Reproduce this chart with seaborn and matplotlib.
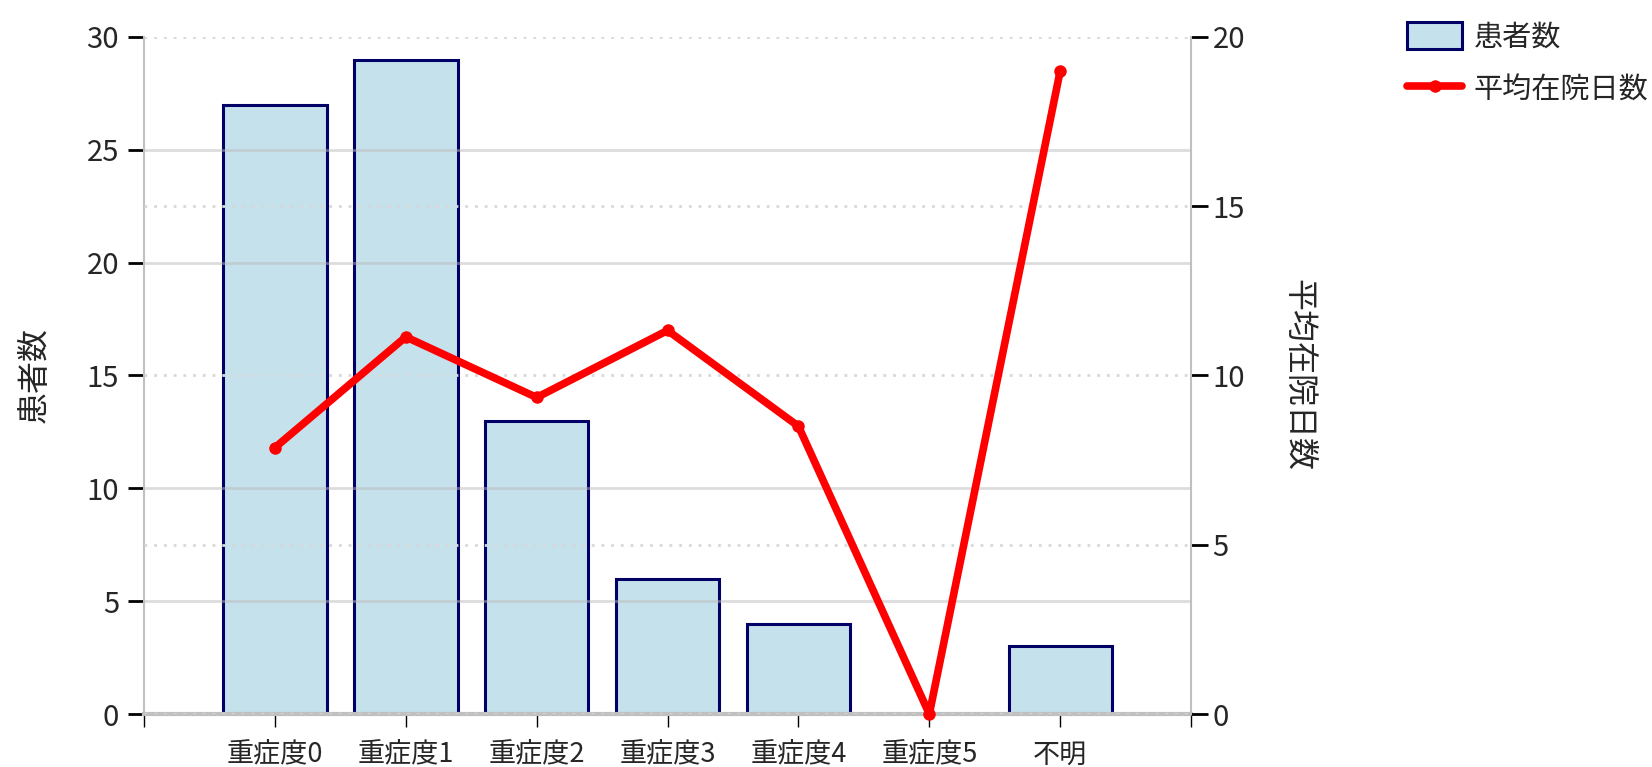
import numpy as np
import pandas as pd
import matplotlib
matplotlib.use('Agg')
import matplotlib.pyplot as plt
import seaborn as sns
from matplotlib.ticker import FixedLocator

categories = ['重症度0', '重症度1', '重症度2', '重症度3', '重症度4', '重症度5', '不明']
patients = [27, 29, 13, 6, 4, 0, 3]
avg_days = [7.87, 11.14, 9.35, 11.33, 8.5, 0.0, 19.0]
left_ticks = [0, 5, 10, 15, 20, 25, 30]
right_ticks = [0, 5, 10, 15, 20]

sns.set_theme(style='white')
plt.rcParams['font.family'] = ['Noto Sans CJK JP', 'DejaVu Sans']

df = pd.DataFrame({'cat': categories, 'patients': patients, 'days': avg_days})
df['pos'] = np.arange(len(df))

fig = plt.figure(figsize=(16.52, 7.67), dpi=100)
ax = fig.add_axes([0.0872, 0.0691, 0.6338, 0.8827])

# bars - patients
sns.barplot(data=df, x='cat', y='patients', ax=ax, color='#C5E1EC',
            edgecolor='#000066', linewidth=2.2, width=0.79, saturation=1)

# line - average days, on the right axis
ax2 = ax.twinx()
sns.lineplot(data=df, x='pos', y='days', ax=ax2, color='red', lw=5.5,
             marker='o', markersize=9, markeredgewidth=0, legend=False)
for ln in ax2.lines:
    ln.set_clip_on(False)

ax.set_xlim(-1, 7)
ax.set_ylim(0, 30)
ax2.set_ylim(0, 20)
ax.set_yticks(left_ticks)
ax2.set_yticks(right_ticks)
ax.set_xticks(range(len(categories)))
ax.set_xticklabels(categories)
ax.xaxis.set_minor_locator(FixedLocator([-1, 7]))

ax.tick_params(axis='x', which='both', bottom=True, length=9, width=1,
               color='black', pad=11, labelsize=19.5)
ax.tick_params(axis='y', left=True, length=11.5, width=2, color='black',
               pad=6.5, labelsize=21)
ax2.tick_params(axis='y', right=True, length=12, width=2, color='black',
                pad=3.5, labelsize=21)

# grids: solid for left scale, dotted for right scale
ax.set_axisbelow('line')
ax.grid(axis='y', color='#BBBBBB', alpha=0.5, lw=2, ls='-')
for t in ax.yaxis.get_major_ticks():
    if t.get_loc() in (15, 30):
        t.gridline.set_visible(False)
ax2.grid(axis='y', color='#D8D8D8', lw=2, ls=(0, (1, 2.5)))
ax.xaxis.grid(False)
ax2.xaxis.grid(False)

ax.spines['top'].set_visible(False)
for s in ['top', 'left', 'bottom']:
    ax2.spines[s].set_visible(False)
ax.spines['left'].set_color('#C0C0C0')
ax.spines['left'].set_linewidth(1.5)
ax.spines['right'].set_visible(False)
ax.spines['bottom'].set_color('#C0C0C0')
ax.spines['bottom'].set_linewidth(3)
ax2.spines['right'].set_color('#C0C0C0')
ax2.spines['right'].set_linewidth(1.5)

ax.set_xlabel('')
ax.set_ylabel('患者数', fontsize=23)
ax.yaxis.set_label_coords(-0.104, 0.5)
ax.yaxis.label.set_va('center')
ax2.set_ylabel('平均在院日数', fontsize=23, rotation=-90)
ax2.yaxis.set_label_coords(1.103, 0.5)
ax2.yaxis.label.set_va('center')

fig.legend(handles=[ax.patches[0], ax2.lines[0]], labels=['患者数', '平均在院日数'],
           loc='upper left', bbox_to_anchor=(1407 / 1652, 1 - 22 / 767),
           frameon=False, fontsize=21, handlelength=1.9, handleheight=1.07,
           handletextpad=0.38, borderpad=0, borderaxespad=0, labelspacing=0.75)

fig.savefig('out.png', dpi=100)
